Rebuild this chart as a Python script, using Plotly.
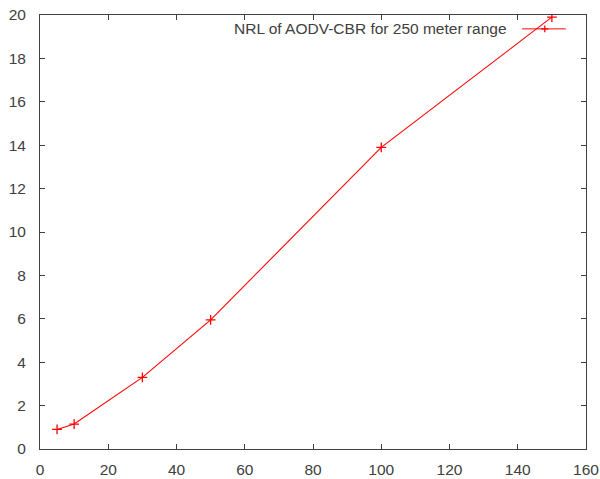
import plotly.graph_objects as go

nodes = [5, 10, 30, 50, 100, 150]
nrl = [0.9, 1.15, 3.3, 5.95, 13.9, 19.9]
series_name = "NRL of AODV-CBR for 250 meter range"

red = "rgb(255,0,0)"
axis_col = "#404040"
txt_col = "#404040"
font = dict(family="Liberation Sans, Arial, sans-serif", size=15.5, color=txt_col)

fig = go.Figure()
fig.add_trace(go.Scatter(
    x=nodes, y=nrl, mode="lines+markers", name=series_name,
    line=dict(color=red, width=1.1),
    marker=dict(symbol="cross-thin", size=7, line=dict(color=red, width=1.3), color=red),
    showlegend=False, hoverinfo="skip",
))

axis_common = dict(
    showgrid=False, zeroline=False, showline=True, mirror="ticks",
    linecolor=axis_col, linewidth=1, ticks="inside", ticklen=5,
    tickcolor=axis_col, tickwidth=1, tickfont=font, automargin=False,
)
fig.update_xaxes(range=[0, 160], dtick=20, tick0=0, ticklabelstandoff=6, **axis_common)
fig.update_yaxes(range=[0, 20], dtick=2, tick0=0, ticklabelstandoff=10, **axis_common)

# gnuplot-style key: text then sample line with marker
key_y = 0.968
fig.add_annotation(xref="paper", yref="paper", x=0.859, y=key_y, xanchor="right",
                   yanchor="middle", text=series_name, showarrow=False, font=font)
fig.add_shape(type="line", xref="paper", yref="paper", x0=0.883, x1=0.963,
              y0=key_y, y1=key_y, line=dict(color=red, width=1))
fig.add_shape(type="line", xref="paper", yref="paper", x0=0.9245 - 0.0065, x1=0.9245 + 0.0065,
              y0=key_y, y1=key_y, line=dict(color=red, width=1.3))
fig.add_shape(type="line", xref="paper", yref="paper", x0=0.9245, x1=0.9245,
              y0=key_y - 0.008, y1=key_y + 0.008, line=dict(color=red, width=1.3))

fig.update_layout(
    width=600, height=479,
    margin=dict(l=40, r=14, t=15, b=30),
    paper_bgcolor="white", plot_bgcolor="white",
    font=font,
)
fig.write_html("out.html", config={"displayModeBar": False},
               post_script="document.body.style.margin='0';document.body.style.overflow='hidden';")
